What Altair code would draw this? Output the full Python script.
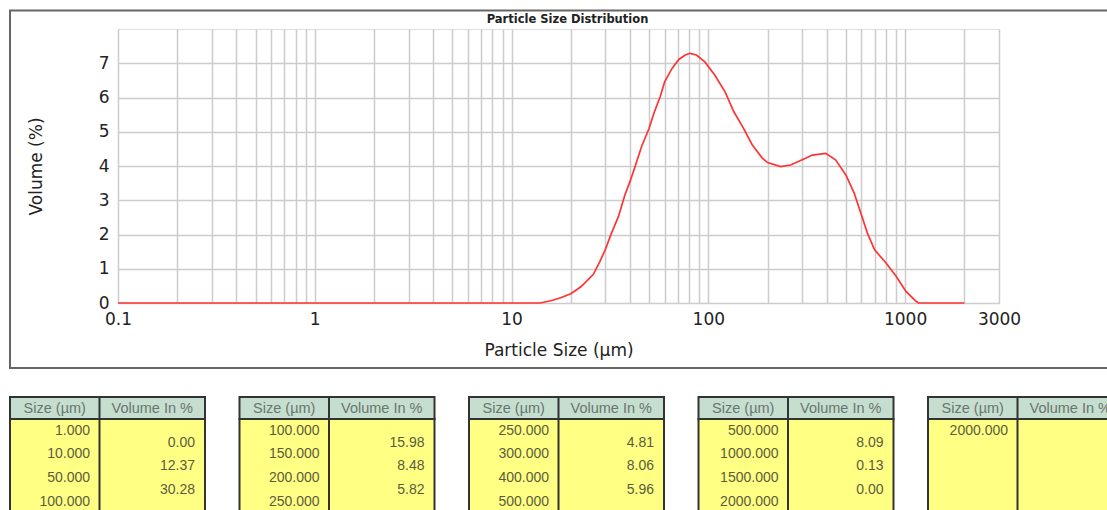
import altair as alt
import pandas as pd

# ---------------- data ----------------
sizes = [0.1, 14, 16.2, 17.9, 20, 22.6, 26, 28.1, 30, 32.2,
         34.9, 37.7, 40, 42.4, 45.8, 50, 52.9, 56.9, 60, 65.4,
         70.8, 76.3, 80.8, 87, 96, 108, 122, 134.6, 151, 167,
         188, 200, 233, 262, 300, 338, 395, 443, 500, 551,
         607, 643, 700, 800, 900, 1010, 1137, 1170, 2000]
volumes = [0, 0, 0.08, 0.16, 0.27, 0.48, 0.83, 1.21, 1.57, 2.04,
           2.52, 3.16, 3.55, 3.98, 4.57, 5.10, 5.54, 6.02, 6.46, 6.85,
           7.11, 7.24, 7.29, 7.24, 7.04, 6.65, 6.15, 5.59, 5.10, 4.62,
           4.23, 4.10, 3.98, 4.03, 4.18, 4.32, 4.37, 4.18, 3.74, 3.21,
           2.48, 2.04, 1.55, 1.17, 0.78, 0.34, 0.05, 0, 0]

x_grid = [0.1, 0.2, 0.3, 0.4, 0.5, 0.6, 0.7, 0.8, 0.9, 1,
          2, 3, 4, 5, 6, 7, 8, 9, 10,
          20, 30, 40, 50, 60, 70, 80, 90, 100,
          200, 300, 400, 500, 600, 700, 800, 900, 1000, 2000, 3000]
x_labels = [0.1, 1, 10, 100, 1000, 3000]
y_labels = [0, 1, 2, 3, 4, 5, 6, 7]

chart_title = "Particle Size Distribution"
x_title = "Particle Size (\u03bcm)"
y_title = "Volume (%)"

table_sizes = [
    ["1.000", "10.000", "50.000", "100.000"],
    ["100.000", "150.000", "200.000", "250.000"],
    ["250.000", "300.000", "400.000", "500.000"],
    ["500.000", "1000.000", "1500.000", "2000.000"],
    ["2000.000"],
]
table_volumes = [
    ["0.00", "12.37", "30.28"],
    ["15.98", "8.48", "5.82"],
    ["4.81", "8.06", "5.96"],
    ["8.09", "0.13", "0.00"],
    [],
]
header_size = "Size (\u00b5m)"
header_volume = "Volume In %"

# ---------------- layout constants ----------------
W, H = 881, 274
PITCH = 229.5      # distance between tables (px)
COL1 = 89.5        # first column width
TW = 195           # table width
ROW = 23.7
FONT = "DejaVu Sans"

# ---------------- main plot ----------------
line_df = pd.DataFrame({"size": sizes, "volume": volumes})

xscale = alt.Scale(type="log", domain=[0.1, 3000], nice=False)
yscale = alt.Scale(domain=[0, 8], nice=False)

label_list = ",".join(str(v) for v in x_labels)
line = alt.Chart(line_df).mark_line(color="#ff3333", strokeWidth=1.7).encode(
    x=alt.X("size:Q", scale=xscale,
            axis=alt.Axis(values=x_grid, format="~g",
                          labelExpr=f"indexof([{label_list}], datum.value) >= 0 ? datum.label : ''",
                          grid=True, gridColor="#cccccc", gridWidth=1.5,
                          ticks=False, domain=False, labelFlush=False, labelOverlap=False,
                          labelFont=FONT, labelFontSize=17, labelColor="#222",
                          labelPadding=8, title=x_title,
                          titleFont=FONT, titleFontSize=17,
                          titleFontWeight="normal", titleColor="#222",
                          titlePadding=15)),
    y=alt.Y("volume:Q", scale=yscale,
            axis=alt.Axis(values=y_labels, grid=True, gridColor="#cccccc",
                          gridWidth=1.5, ticks=False, domain=False,
                          labelFont=FONT, labelFontSize=17, labelColor="#222",
                          labelPadding=9, title=y_title,
                          titleFont=FONT, titleFontSize=17,
                          titleFontWeight="normal", titleColor="#222",
                          titlePadding=53)),
)

# ---------------- outer frame and title ----------------
one = pd.DataFrame({"k": [0]})
frame = alt.Chart(one).mark_rect(
    fillOpacity=0, stroke="#666666", strokeWidth=2
).encode(x=alt.value(-108), x2=alt.value(1010), y=alt.value(-18.5), y2=alt.value(339))

title_mark = alt.Chart(one).mark_text(
    text=chart_title, font=FONT, fontSize=11.5, fontWeight="bold", color="#222",
    align="center", baseline="middle"
).encode(x=alt.value(W / 2 + 9), y=alt.value(-9))

# ---------------- tables ----------------
rect_rows, text_rows, div_rows = [], [], []
for i in range(len(table_sizes)):
    rect_rows.append({"tx": i, "tx2": i + TW / PITCH, "ty": 0, "ty2": 22, "part": "header"})
    rect_rows.append({"tx": i, "tx2": i + TW / PITCH, "ty": 22, "ty2": 150, "part": "body"})
    div_rows.append({"tx": i + COL1 / PITCH, "ty": 0, "ty2": 150})
    text_rows.append({"tx": i + COL1 / 2 / PITCH, "ty": 11.5, "label": header_size,
                      "kind": "head"})
    text_rows.append({"tx": i + (COL1 + (TW - COL1) / 2) / PITCH, "ty": 11.5,
                      "label": header_volume, "kind": "head"})
    for j, s in enumerate(table_sizes[i]):
        text_rows.append({"tx": i + (COL1 - 9.5) / PITCH, "ty": 33.7 + ROW * j,
                          "label": s, "kind": "body"})
    for j, v in enumerate(table_volumes[i]):
        text_rows.append({"tx": i + (TW - 10) / PITCH, "ty": 45.5 + ROW * j,
                          "label": v, "kind": "body"})

tx_scale = alt.Scale(domain=[0, 5], range=[-108, -108 + 5 * PITCH], nice=False, zero=False)
ty_scale = alt.Scale(domain=[0, 120], range=[368, 488], nice=False, zero=False)

t_rects = alt.Chart(pd.DataFrame(rect_rows)).mark_rect(stroke="#333333", strokeWidth=2).encode(
    x=alt.X("tx:Q", scale=tx_scale, axis=None),
    x2="tx2:Q",
    y=alt.Y("ty:Q", scale=ty_scale, axis=None),
    y2="ty2:Q",
    fill=alt.Fill("part:N", scale=alt.Scale(domain=["header", "body"],
                                            range=["#c6decf", "#ffff84"]), legend=None),
)
t_divs = alt.Chart(pd.DataFrame(div_rows)).mark_rule(color="#333333", strokeWidth=2).encode(
    x=alt.X("tx:Q", scale=tx_scale, axis=None),
    y=alt.Y("ty:Q", scale=ty_scale, axis=None),
    y2="ty2:Q",
)
tdf = pd.DataFrame(text_rows)
t_head = alt.Chart(tdf[tdf.kind == "head"]).mark_text(
    font="Liberation Sans", fontSize=14.5, color="#66776e", align="center", baseline="middle"
).encode(
    x=alt.X("tx:Q", scale=tx_scale, axis=None),
    y=alt.Y("ty:Q", scale=ty_scale, axis=None),
    text="label:N",
)
t_body = alt.Chart(tdf[tdf.kind == "body"]).mark_text(
    font="Liberation Sans", fontSize=14, color="#5c5c3c", align="right", baseline="middle"
).encode(
    x=alt.X("tx:Q", scale=tx_scale, axis=None),
    y=alt.Y("ty:Q", scale=ty_scale, axis=None),
    text="label:N",
)
tables = alt.layer(t_rects, t_divs, t_head, t_body)

chart = alt.layer(frame, title_mark, line, tables).resolve_scale(
    x="independent", y="independent", fill="independent"
).properties(
    width=W, height=H,
    autosize=alt.AutoSizeParams(type="none"),
    padding={"left": 118, "top": 29, "right": 108, "bottom": 207},
).configure_view(stroke="#333333", strokeWidth=2).configure(background="white")

chart.save("out.html", embed_options={"renderer": "svg", "actions": False})
